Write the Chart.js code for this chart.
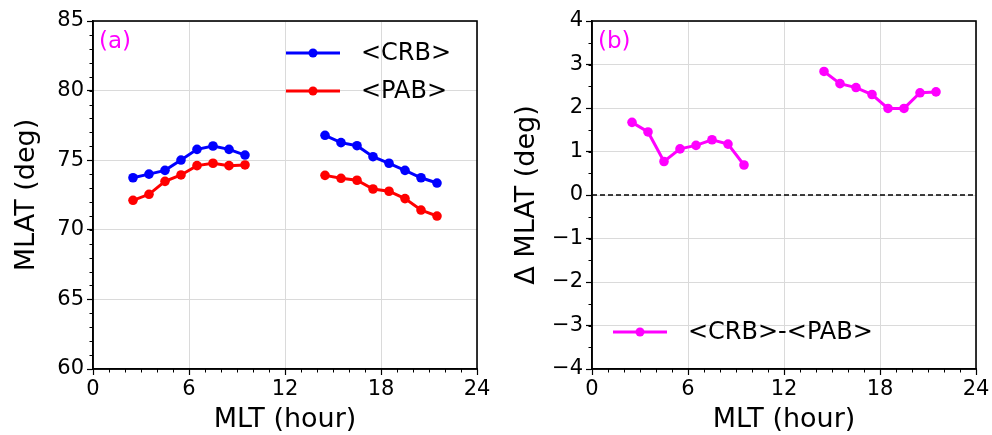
<!DOCTYPE html>
<html>
<head>
<meta charset="utf-8">
<script src="https://cdn.jsdelivr.net/npm/chart.js@4.4.1/dist/chart.umd.min.js"></script>
<style>
  html, body { margin: 0; padding: 0; background: #fff; }
  #wrap { position: relative; width: 992px; height: 435px; overflow: hidden; }
  .box { position: absolute; top: 0; width: 496px; height: 435px; }
  #boxA { left: 0; }
  #boxB { left: 496px; }
</style>
</head>
<body>
<div id="wrap">
  <div class="box" id="boxA"><canvas id="chartA"></canvas></div>
  <div class="box" id="boxB"><canvas id="chartB"></canvas></div>
</div>
<script>
// ---- data ----
const mlt = [2.5, 3.5, 4.5, 5.5, 6.5, 7.5, 8.5, 9.5, 14.5, 15.5, 16.5, 17.5, 18.5, 19.5, 20.5, 21.5];
const crb = [73.74, 74.00, 74.27, 75.01, 75.78, 76.02, 75.78, 75.37, 76.79, 76.26, 76.04, 75.25, 74.78, 74.27, 73.74, 73.36];
const pab = [72.12, 72.55, 73.48, 73.94, 74.61, 74.78, 74.61, 74.66, 73.91, 73.70, 73.56, 72.93, 72.77, 72.24, 71.42, 70.99];
const dmlat = [1.67, 1.45, 0.77, 1.06, 1.14, 1.27, 1.17, 0.69, 2.84, 2.56, 2.47, 2.31, 1.99, 1.99, 2.35, 2.37];
const xTicks = [0, 6, 12, 18, 24];
const yTicksA = [60, 65, 70, 75, 80, 85];
const yTicksB = [-4, -3, -2, -1, 0, 1, 2, 3, 4];
const labelsA = ['<CRB>', '<PAB>'];
const labelB = '<CRB>-<PAB>';

// build point list, breaking the line where MLT jumps by more than one hour
function pts(xs, ys) {
  const out = [];
  for (let i = 0; i < xs.length; i++) {
    if (i > 0 && xs[i] - xs[i - 1] > 1.5) out.push({ x: (xs[i] + xs[i - 1]) / 2, y: null });
    out.push({ x: xs[i], y: ys[i] });
  }
  return out;
}

const FONT = 'DejaVu Sans';
Chart.defaults.font.family = FONT;
Chart.defaults.color = '#000';
Chart.defaults.animation = false;

const GRID = '#dadada';

function fmt(v) { return String(v).replace('-', '\u2212'); }

// minor ticks, frame and in-plot annotations
function makeDecor(opts) {
  return {
    id: 'decor',
    afterDraw(chart) {
      const ctx = chart.ctx, a = chart.chartArea;
      const xs = chart.scales.x, ys = chart.scales.y;
      ctx.save();
      ctx.strokeStyle = '#000';
      ctx.lineWidth = 1;
      // minor x ticks
      for (let v = xs.min; v <= xs.max; v += 1) {
        const px = Math.round(xs.getPixelForValue(v)) + 0.5;
        ctx.beginPath(); ctx.moveTo(px, a.bottom); ctx.lineTo(px, a.bottom + 3.5); ctx.stroke();
      }
      // minor y ticks
      for (let v = ys.min; v <= ys.max + 1e-9; v += opts.yMinor) {
        const py = Math.round(ys.getPixelForValue(v)) + 0.5;
        ctx.beginPath(); ctx.moveTo(a.left, py); ctx.lineTo(a.left - 3.5, py); ctx.stroke();
      }
      // frame
      ctx.lineWidth = 1.6;
      ctx.strokeRect(a.left, a.top, a.right - a.left, a.bottom - a.top);
      // panel letter
      ctx.fillStyle = '#ff00ff';
      ctx.font = '23px "' + FONT + '"';
      ctx.textBaseline = 'middle';
      ctx.textAlign = 'left';
      ctx.fillText(opts.panel, a.left + 6, a.top + 21);
      // legend
      opts.legend.forEach(function (it) {
        ctx.strokeStyle = it.color;
        ctx.lineWidth = 3;
        ctx.beginPath(); ctx.moveTo(it.x0, it.y); ctx.lineTo(it.x0 + 54, it.y); ctx.stroke();
        ctx.fillStyle = it.color;
        ctx.beginPath(); ctx.arc(it.x0 + 27, it.y, 4.5, 0, Math.PI * 2); ctx.fill();
        ctx.fillStyle = '#000';
        ctx.font = '24px "' + FONT + '"';
        ctx.fillText(it.text, it.x0 + 75, it.y + 1);
      });
      ctx.restore();
    }
  };
}

function lineDs(data, color) {
  return {
    data: data, borderColor: color, backgroundColor: color,
    borderWidth: 3, pointRadius: 4.8, pointHoverRadius: 4.8,
    pointBorderWidth: 0, spanGaps: false, tension: 0
  };
}

function baseOptions(o) {
  return {
    responsive: true, maintainAspectRatio: false, devicePixelRatio: 1,
    animation: false,
    layout: { padding: { top: 21, right: o.padRight, left: 0, bottom: 0 } },
    plugins: { legend: { display: false }, tooltip: { enabled: false } },
    scales: {
      x: {
        type: 'linear', min: 0, max: 24,
        afterBuildTicks: function (s) { s.ticks = xTicks.map(v => ({ value: v })); },
        afterFit: function (s) { s.height = 66; },
        ticks: { font: { size: 21 }, color: '#000', padding: 2, maxRotation: 0, autoSkip: false },
        grid: { color: GRID, lineWidth: 1, tickLength: 6, tickColor: '#000', tickWidth: 1.2 },
        border: { color: '#000', width: 1.6 },
        title: { display: true, text: 'MLT (hour)', font: { size: 27, lineHeight: 1.1 }, color: '#000', padding: { top: 0, bottom: 0 } }
      },
      y: {
        type: 'linear', min: o.yMin, max: o.yMax,
        afterBuildTicks: function (s) { s.ticks = o.yTicks.map(v => ({ value: v })); },
        afterFit: function (s) { s.width = o.yWidth; },
        ticks: { font: { size: 21 }, color: '#000', padding: 3, autoSkip: false, callback: fmt },
        grid: { color: GRID, lineWidth: 1, tickLength: 6, tickColor: '#000', tickWidth: 1.2 },
        border: { color: '#000', width: 1.6 },
        title: { display: true, text: o.yTitle, font: { size: 27, lineHeight: 1.1 }, color: '#000', padding: { top: o.yTitlePad, bottom: 0 } }
      }
    }
  };
}

new Chart(document.getElementById('chartA'), {
  type: 'line',
  data: { datasets: [lineDs(pts(mlt, crb), '#0000ff'), lineDs(pts(mlt, pab), '#ff0000')] },
  options: baseOptions({ padRight: 19, yMin: 60, yMax: 85, yTicks: yTicksA, yWidth: 93, yTitle: 'MLAT (deg)', yTitlePad: 12 }),
  plugins: [makeDecor({
    yMinor: 1, panel: '(a)',
    legend: [
      { text: labelsA[0], color: '#0000ff', x0: 286, y: 53 },
      { text: labelsA[1], color: '#ff0000', x0: 286, y: 91 }
    ]
  })]
});

const zeroLine = [{ x: 0, y: 0 }, { x: 24, y: 0 }];
new Chart(document.getElementById('chartB'), {
  type: 'line',
  data: {
    datasets: [
      { data: zeroLine, borderColor: '#000', borderWidth: 1.5, borderDash: [5, 3], pointRadius: 0, pointHoverRadius: 0 },
      lineDs(pts(mlt, dmlat), '#ff00ff')
    ]
  },
  options: baseOptions({ padRight: 16, yMin: -4, yMax: 4, yTicks: yTicksB, yWidth: 96, yTitle: '\u0394 MLAT (deg)', yTitlePad: 16 }),
  plugins: [makeDecor({
    yMinor: 0.5, panel: '(b)',
    legend: [{ text: labelB, color: '#ff00ff', x0: 117, y: 332 }]
  })]
});
</script>
</body>
</html>
